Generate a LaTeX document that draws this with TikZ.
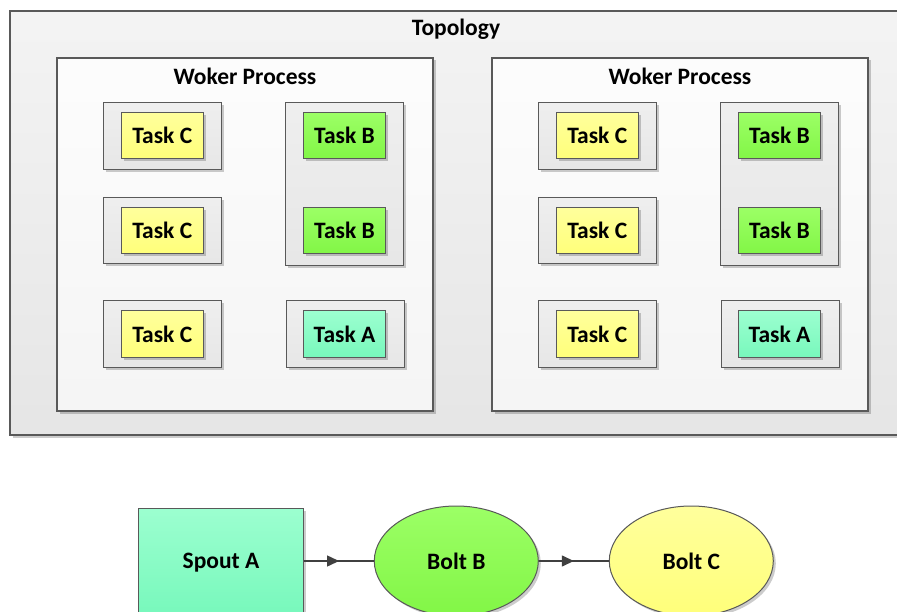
\documentclass[tikz,border=0pt]{standalone}
\usepackage{fontspec}
\setmainfont{Carlito}
\usetikzlibrary{shapes.geometric,shadows,arrows.meta,decorations.markings}

\definecolor{edgegray}{HTML}{595959}
\definecolor{linkgray}{HTML}{404040}
\definecolor{yellowtop}{HTML}{FFFF9C}
\definecolor{yellowbot}{HTML}{FFFF7A}
\definecolor{greentop}{HTML}{9CFF66}
\definecolor{greenbot}{HTML}{82F646}
\definecolor{aquatop}{HTML}{9CFFD0}
\definecolor{aquabot}{HTML}{78F8BC}

\tikzset{
	softshadow/.style={drop shadow={shadow xshift=2.5pt, shadow yshift=-2.5pt, opacity=0.2, fill=black}},
	label text/.style={font=\bfseries\fontsize{23.5}{28}\selectfont, text=black},
	topobox/.style={draw=edgegray, line width=1.2pt, top color=gray!9, bottom color=gray!20, softshadow},
	workerbox/.style={draw=edgegray, line width=1.2pt, top color=gray!2, bottom color=gray!8, softshadow},
	slotbox/.style={draw=edgegray, line width=1.2pt, top color=gray!13, bottom color=gray!19, minimum width=118, minimum height=66.5, softshadow},
	taskbox/.style={draw=edgegray, line width=1pt, inner sep=0pt, minimum width=82.5, minimum height=46.5, label text, softshadow},
	task C/.style={taskbox, top color=yellowtop, bottom color=yellowbot},
	task B/.style={taskbox, top color=greentop, bottom color=greenbot},
	task A/.style={taskbox, top color=aquatop, bottom color=aquabot},
	streamnode/.style={draw=edgegray, line width=1pt, inner sep=0pt, text depth=0pt, label text, softshadow},
	connector/.style={draw=linkgray, line width=1.4pt, postaction={decorate},
		decoration={markings, mark=at position 0.5 with {\arrow{Triangle[length=12pt, width=11pt]}}}}
}

\begin{document}
\begin{tikzpicture}[x=1pt, y=-1pt]
	\clip (0,0) rectangle (897,612);
	\fill[white] (0,0) rectangle (897,612);

	% topology frame
	\node[topobox, minimum width=892, minimum height=424] (topo) at (456,223) {};
	\node[label text] (topotitle) at (456,29) {Topology};

	% two worker processes, the right one shifted by 435
	\foreach \side/\dx in {l/0, r/435} {
		\node[workerbox, minimum width=376, minimum height=353] (w\side) at (245+\dx,234.5) {};
		\node[label text] (w\side title) at (245+\dx,76) {Woker Process};

		% executors
		\node[slotbox] (s\side1) at (162.3+\dx,136) {};
		\node[slotbox] (s\side2) at (162.3+\dx,230.5) {};
		\node[slotbox] (s\side3) at (162.3+\dx,334) {};
		\node[slotbox, minimum height=163] (s\side4) at (344.7+\dx,184.2) {};
		\node[slotbox] (s\side5) at (345.8+\dx,334) {};

		% tasks
		\node[task C] (c\side1) at (162.3+\dx,135.7) {Task C};
		\node[task C] (c\side2) at (162.3+\dx,230.5) {Task C};
		\node[task C] (c\side3) at (162.3+\dx,334.2) {Task C};
		\node[task B] (b\side1) at (344.5+\dx,135.7) {Task B};
		\node[task B] (b\side2) at (344.5+\dx,230.5) {Task B};
		\node[task A] (a\side)  at (344.5+\dx,334.2) {Task A};
	}

	% spout and bolts
	\node[streamnode, rectangle, minimum width=165.5, minimum height=105.5,
		top color=aquatop, bottom color=aquabot] (spoutA) at (221,561) {Spout A};
	\node[streamnode, ellipse, minimum width=164, minimum height=110,
		top color=greentop, bottom color=greenbot] (boltB) at (456.3,561) {Bolt B};
	\node[streamnode, ellipse, minimum width=164, minimum height=110,
		top color=yellowtop, bottom color=yellowbot] (boltC) at (691.3,561) {Bolt C};

	\draw[connector] (spoutA.east) -- (boltB.west);
	\draw[connector] (boltB.east) -- (boltC.west);
\end{tikzpicture}
\end{document}
